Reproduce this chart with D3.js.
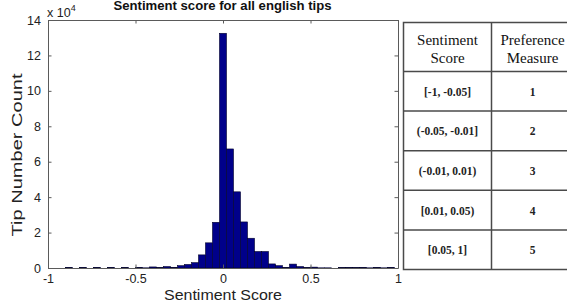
<!DOCTYPE html>
<html>
<head>
<meta charset="utf-8">
<script src="https://cdn.jsdelivr.net/npm/d3@7"></script>
<style>
  html, body { margin: 0; padding: 0; background: #fff; }
  svg { display: block; }
</style>
</head>
<body>
<svg id="chart" width="567" height="308"></svg>
<script>
// ---- data ----
const title = "Sentiment score for all english tips";
const xLabel = "Sentiment Score";
const yLabel = "Tip Number Count";
const binWidth = 0.04;
const binCenters = [-1.00,-0.96,-0.92,-0.88,-0.84,-0.80,-0.76,-0.72,-0.68,-0.64,-0.60,-0.56,-0.52,-0.48,-0.44,-0.40,-0.36,-0.32,-0.28,-0.24,-0.20,-0.16,-0.12,-0.08,-0.04,0.00,0.04,0.08,0.12,0.16,0.20,0.24,0.28,0.32,0.36,0.40,0.44,0.48,0.52,0.56,0.60,0.64,0.68,0.72,0.76,0.80,0.84,0.88,0.92,0.96,1.00];
// counts in units of 10^4
const binCounts = [0,0,0,0.03,0,0.03,0,0.03,0,0.03,0,0.03,0,0.03,0.01,0.06,0.02,0.08,0.04,0.13,0.2,0.3,0.74,1.42,2.58,13.25,6.72,4.3,2.6,1.68,0.93,0.93,0.23,0.13,0.03,0.22,0.08,0.02,0.05,0.01,0.01,0,0.02,0.03,0.02,0.03,0.01,0.03,0.01,0.03,0];
const xTicks = [-1, -0.5, 0, 0.5, 1];
const xTickLabels = ["-1", "-0.5", "0", "0.5", "1"];
const yTicks = [0, 2, 4, 6, 8, 10, 12, 14];
const yExponent = "4";

const tableHeader = [["Sentiment", "Score"], ["Preference", "Measure"]];
const tableRanges = ["[-1, -0.05]", "(-0.05, -0.01]", "(-0.01, 0.01)", "[0.01, 0.05)", "[0.05, 1]"];
const tableMeasures = ["1", "2", "3", "4", "5"];

// ---- layout ----
const svg = d3.select("#chart");
const sans = "'Liberation Sans', Arial, Helvetica, sans-serif";
const serif = "'Liberation Serif', 'Times New Roman', serif";

const x = d3.scaleLinear().domain([-1, 1]).range([48, 398]);
const y = d3.scaleLinear().domain([0, 14]).range([268, 20]);

const bins = binCenters.map((c, i) => ({ c, v: binCounts[i] }));

// bars
const gBars = svg.append("g");
gBars.selectAll("rect")
  .data(bins.filter(d => d.v > 0))
  .join("rect")
  .attr("x", d => x(Math.max(-1, d.c - binWidth / 2)))
  .attr("width", d => x(Math.min(1, d.c + binWidth / 2)) - x(Math.max(-1, d.c - binWidth / 2)))
  .attr("y", d => y(d.v))
  .attr("height", d => y(0) - y(d.v))
  .attr("fill", "#00008a")
  .attr("stroke", "#00002a")
  .attr("stroke-width", 0.6);

// axes box
const axisColor = "#5a5a5a";
const tickLen = 3.5;

const axBottom = svg.append("g").attr("transform", `translate(0,${y(0)})`)
  .call(d3.axisBottom(x).tickValues(xTicks).tickFormat((d, i) => xTickLabels[i]).tickSizeInner(-tickLen).tickSizeOuter(0).tickPadding(6));
const axTop = svg.append("g").attr("transform", `translate(0,${y(14)})`)
  .call(d3.axisTop(x).tickValues(xTicks).tickFormat("").tickSizeInner(-tickLen).tickSizeOuter(0));
const axLeft = svg.append("g").attr("transform", `translate(${x(-1)},0)`)
  .call(d3.axisLeft(y).tickValues(yTicks).tickFormat(d3.format("d")).tickSizeInner(-tickLen).tickSizeOuter(0).tickPadding(7));
const axRight = svg.append("g").attr("transform", `translate(${x(1)},0)`)
  .call(d3.axisRight(y).tickValues(yTicks).tickFormat("").tickSizeInner(-tickLen).tickSizeOuter(0));

[axBottom, axTop, axLeft, axRight].forEach(g => {
  g.select(".domain").attr("stroke", axisColor).attr("stroke-width", 1);
  g.selectAll(".tick line").attr("stroke", axisColor);
  g.selectAll(".tick text").attr("fill", "#222").attr("font-family", sans).attr("font-size", 12.5);
});

// exponent label
const expText = svg.append("text")
  .attr("x", 47).attr("y", 17)
  .attr("font-family", sans).attr("font-size", 12.5).attr("fill", "#222");
expText.append("tspan").text("x 10");
expText.append("tspan").attr("dy", -6.5).attr("font-size", 9).text(yExponent);

// title
svg.append("text")
  .attr("x", 222.5).attr("y", 9.5)
  .attr("text-anchor", "middle")
  .attr("font-family", sans).attr("font-size", 12.5).attr("font-weight", "bold")
  .attr("fill", "#111")
  .attr("textLength", 218).attr("lengthAdjust", "spacingAndGlyphs")
  .text(title);

// axis titles
svg.append("text")
  .attr("x", 223).attr("y", 300)
  .attr("text-anchor", "middle")
  .attr("font-family", sans).attr("font-size", 15).attr("fill", "#222")
  .attr("textLength", 118).attr("lengthAdjust", "spacingAndGlyphs")
  .text(xLabel);

svg.append("text")
  .attr("transform", "translate(22,155) rotate(-90)")
  .attr("text-anchor", "middle")
  .attr("font-family", sans).attr("font-size", 15.5).attr("fill", "#222")
  .attr("textLength", 163).attr("lengthAdjust", "spacingAndGlyphs")
  .text(yLabel);

// ---- table ----
const tLeft = 403.5, tMid = 491.5, tRight = 574;
const tTop = 22.5, tHeadBottom = 71.5, tBottom = 269.5;
const rowScale = d3.scaleBand().domain(d3.range(tableRanges.length)).range([tHeadBottom, tBottom]);
const tableColor = "#4a4a4a";
const gT = svg.append("g");

gT.append("rect")
  .attr("x", tLeft).attr("y", tTop)
  .attr("width", tRight - tLeft).attr("height", tBottom - tTop)
  .attr("fill", "none").attr("stroke", tableColor).attr("stroke-width", 1.5);
gT.append("line")
  .attr("x1", tMid).attr("x2", tMid).attr("y1", tTop).attr("y2", tBottom)
  .attr("stroke", tableColor).attr("stroke-width", 1.5);
const rowLines = [tHeadBottom].concat(d3.range(1, tableRanges.length).map(i => rowScale(i)));
gT.selectAll("line.row")
  .data(rowLines)
  .join("line")
  .attr("class", "row")
  .attr("x1", tLeft).attr("x2", tRight)
  .attr("y1", d => d).attr("y2", d => d)
  .attr("stroke", tableColor).attr("stroke-width", 1.5);

const colCenters = [(tLeft + tMid) / 2, 532.5];

tableHeader.forEach((lines, ci) => {
  lines.forEach((ln, li) => {
    gT.append("text")
      .attr("x", colCenters[ci]).attr("y", 45 + li * 18)
      .attr("text-anchor", "middle")
      .attr("font-family", serif).attr("font-size", 15).attr("fill", "#111")
      .text(ln);
  });
});

tableRanges.forEach((r, i) => {
  const cy = rowScale(i) + rowScale.bandwidth() / 2;
  gT.append("text")
    .attr("x", colCenters[0]).attr("y", cy + 4.5)
    .attr("text-anchor", "middle")
    .attr("font-family", serif).attr("font-size", 11.5).attr("font-weight", "bold").attr("fill", "#222")
    .text(r);
  gT.append("text")
    .attr("x", colCenters[1]).attr("y", cy + 4.5)
    .attr("text-anchor", "middle")
    .attr("font-family", serif).attr("font-size", 11.5).attr("font-weight", "bold").attr("fill", "#222")
    .text(tableMeasures[i]);
});
</script>
</body>
</html>
